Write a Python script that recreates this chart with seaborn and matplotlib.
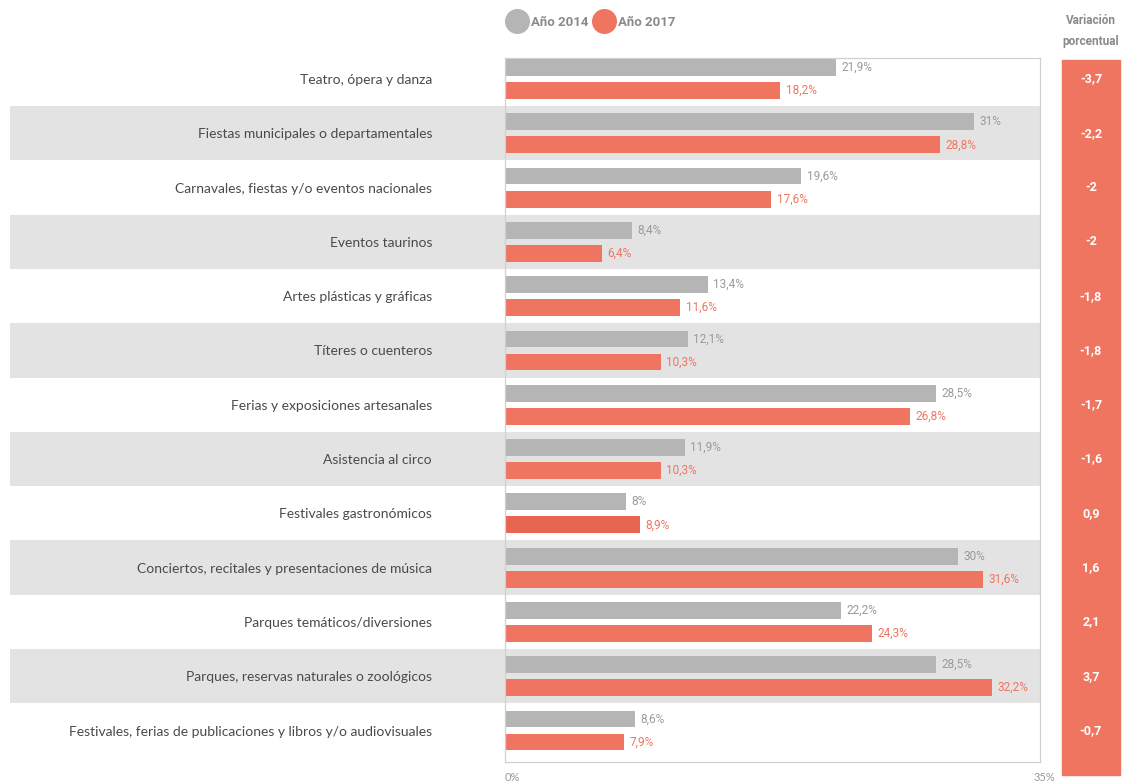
import matplotlib
matplotlib.use("Agg")
import pandas as pd
import seaborn as sns
from matplotlib import pyplot as plt
from matplotlib.lines import Line2D
from matplotlib.patches import Rectangle
import matplotlib.transforms as mtransforms

categorias = [
    "Teatro, ópera y danza",
    "Fiestas municipales o departamentales",
    "Carnavales, fiestas y/o eventos nacionales",
    "Eventos taurinos",
    "Artes plásticas y gráficas",
    "Títeres o cuenteros",
    "Ferias y exposiciones artesanales",
    "Asistencia al circo",
    "Festivales gastronómicos",
    "Conciertos, recitales y presentaciones de música",
    "Parques temáticos/diversiones",
    "Parques, reservas naturales o zoológicos",
    "Festivales, ferias de publicaciones y libros y/o audiovisuales",
]
valores_2014 = [21.9, 31, 19.6, 8.4, 13.4, 12.1, 28.5, 11.9, 8, 30, 22.2, 28.5, 8.6]
valores_2017 = [18.2, 28.8, 17.6, 6.4, 11.6, 10.3, 26.8, 10.3, 8.9, 31.6, 24.3, 32.2, 7.9]
variacion = ["-3,7", "-2,2", "-2", "-2", "-1,8", "-1,8", "-1,7", "-1,6",
             "0,9", "1,6", "2,1", "3,7", "-0,7"]
anios = ["Año 2014", "Año 2017"]

GRIS = "#b5b5b5"
NARANJA = "#ef7560"
BANDA = "#e3e3e3"
TEXTO = "#4a4a4a"
NUM_FONT = ["Roboto", "DejaVu Sans"]

W, H = 1123, 781


def fmt(v):
    s = f"{v:.1f}".replace(".", ",")
    if s.endswith(",0"):
        s = s[:-2]
    return s + "%"


df = pd.DataFrame({
    "categoria": categorias * 2,
    "anio": [anios[0]] * len(categorias) + [anios[1]] * len(categorias),
    "valor": valores_2014 + valores_2017,
})

sns.set_theme(style="white")
plt.rcParams["font.family"] = ["Lato", "DejaVu Sans"]

fig = plt.figure(figsize=(W / 100, H / 100), dpi=100)
ax = fig.add_axes([505 / W, (H - 762) / H, (1040 - 505) / W, (762 - 58) / H])
ax.patch.set_alpha(0)

sns.barplot(data=df, y="categoria", x="valor", hue="anio", hue_order=anios,
            palette=[GRIS, NARANJA], orient="h", width=0.85, gap=0.27,
            ax=ax, legend=False, saturation=1, linewidth=0, edgecolor="none")
# the festivales gastronomicos bar is a touch darker in the original
ax.containers[1][8].set_facecolor("#e8654f")

ax.set_xlim(0, 35.4)
ax.set_ylim(12.58, -0.387)
ax.set_xlabel("")
ax.set_ylabel("")

# alternating row bands
for i in range(1, len(categorias), 2):
    ax.axhspan(i - 0.5, i + 0.5, xmin=(10 - 505) / 535, xmax=1,
               color=BANDA, zorder=0, clip_on=False, lw=0)

# value labels
for cont, col, vals in zip(ax.containers, ["#9a9a9a", NARANJA], [valores_2014, valores_2017]):
    ax.bar_label(cont, labels=[fmt(v) for v in vals], padding=4, color=col,
                 fontsize=8.5, family=NUM_FONT)

ax.set_xticks(range(0, 36, 5))
ax.set_xticklabels(["0%", "", "", "", "", "", "", "35%"])
for lab in ax.get_xticklabels():
    lab.set_ha("left")
ax.tick_params(axis="x", direction="in", length=6, color="#cccccc",
               labelsize=8, labelcolor="#999999", pad=7)
ax.tick_params(axis="y", length=0, pad=73 * 0.72, labelsize=10, labelcolor=TEXTO)
for sp in ax.spines.values():
    sp.set_color("#d0d0d0")
    sp.set_linewidth(0.9)

# right column: variación porcentual
fig.patches.append(Rectangle((1062 / W, (H - 775) / H), 58 / W, (775 - 60) / H,
                             transform=fig.transFigure, color=NARANJA, zorder=0))
trans = mtransforms.blended_transform_factory(fig.transFigure, ax.transData)
for i, v in enumerate(variacion):
    fig.text(1091 / W, i, v, transform=trans, ha="center", va="center",
             color="white", fontsize=9, fontweight="bold", family=NUM_FONT)
fig.text(1091 / W, (H - 20) / H, "Variación", ha="center", va="center",
         color="#8a8a8a", fontsize=8.5, fontweight="bold", family=NUM_FONT)
fig.text(1091 / W, (H - 42) / H, "porcentual", ha="center", va="center",
         color="#8a8a8a", fontsize=8.5, fontweight="bold", family=NUM_FONT)

# legend
handles = [Line2D([], [], marker="o", ls="", markersize=17, color=c) for c in [GRIS, NARANJA]]
leg = fig.legend(handles, anios, loc="center left", bbox_to_anchor=(505 / W, (H - 22) / H),
                 ncol=2, frameon=False, handlelength=1.8, handletextpad=0.15,
                 columnspacing=0.3, borderpad=0, borderaxespad=0,
                 prop={"family": NUM_FONT, "weight": "bold", "size": 9.5})
for t in leg.get_texts():
    t.set_color("#8a8a8a")

fig.savefig("out.png", dpi=100)
